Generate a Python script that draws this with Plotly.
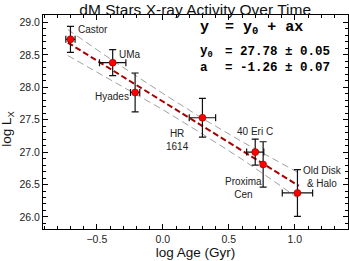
import plotly.graph_objects as go

# ---- data ----
names = ["Castor", "UMa", "Hyades", "HR<br>1614", "40 Eri C", "Proxima<br>Cen", "Old Disk<br>& Halo"]
log_age = [-0.70, -0.38, -0.21, 0.30, 0.70, 0.76, 1.02]
log_lx = [28.74, 28.38, 27.92, 27.53, 27.00, 26.81, 26.37]
age_err = [0.035, 0.10, 0.035, 0.10, 0.065, 0.0, 0.115]
lx_err = [0.20, 0.20, 0.30, 0.30, 0.20, 0.35, 0.36]

fit_x = [-0.72, 1.03]
fit_y = [28.69, 26.48]

band_x = [-0.72, -0.40, 0.00, 0.30, 0.60, 0.85, 1.03]
band_upper = [28.89, 28.44, 27.905, 27.52, 27.16, 26.88, 26.68]
band_lower = [28.49, 28.12, 27.655, 27.28, 26.89, 26.54, 26.28]

y0_text = "27.78 ± 0.05"
a_text = "-1.26 ± 0.07"

# label placement (pixel offsets from each point): (xshift, yshift, xanchor)
label_place = [(6, 10, "left"), (4.5, 8.5, "left"), (-4.5, -4.5, "right"),
               (-24.5, -22, "center"), (-0.5, 20.5, "center"),
               (-19.5, -24, "center"), (25, 16, "center")]

SANS = "Liberation Sans, Arial, sans-serif"
MONO = "Liberation Mono, Courier New, monospace"

fig = go.Figure()

fig.add_trace(go.Scatter(x=band_x, y=band_upper, mode="lines",
                         line=dict(color="#a0a0a0", width=1, dash="7px,4px"),
                         hoverinfo="skip", showlegend=False))
fig.add_trace(go.Scatter(x=band_x, y=band_lower, mode="lines",
                         line=dict(color="#a0a0a0", width=1, dash="7px,4px"),
                         hoverinfo="skip", showlegend=False))
fig.add_trace(go.Scatter(x=fit_x, y=fit_y, mode="lines",
                         line=dict(color="#a80000", width=2, dash="6px,3px"),
                         hoverinfo="skip", showlegend=False))

fig.add_trace(go.Scatter(
    x=log_age, y=log_lx, mode="markers",
    marker=dict(color="#ff0000", size=7, line=dict(color="#8b0000", width=0.6)),
    error_x=dict(type="data", array=age_err, color="#111111", thickness=1.2, width=3.5),
    error_y=dict(type="data", array=lx_err, color="#111111", thickness=1.2, width=3.5),
    showlegend=False))

for nm, xx, yy, (dx, dy, anc) in zip(names, log_age, log_lx, label_place):
    fig.add_annotation(x=xx, y=yy, xref="x", yref="y", text=nm, showarrow=False,
                       xanchor=anc, yanchor="middle", xshift=dx, yshift=dy,
                       align="center", font=dict(family=SANS, size=10, color="#222222"))

# equation block
eq_x_left = 0.509
eq_x_eq = 0.590
rows = [
    ("<b>y</b>", "<b>= y<sub>0</sub> + ax</b>", 0.94, 15),
    ("<b>y<sub>0</sub></b>", "<b>= " + y0_text + "</b>", 0.825, 12.5),
    ("<b>a</b>", "<b>= " + a_text + "</b>", 0.751, 12.5),
]
for left_txt, right_txt, yy, fs in rows:
    fig.add_annotation(x=eq_x_left, y=yy, xref="paper", yref="paper", showarrow=False,
                       xanchor="left", yanchor="middle", text=left_txt,
                       font=dict(family=MONO, size=fs, color="black"))
    fig.add_annotation(x=eq_x_eq, y=yy, xref="paper", yref="paper", showarrow=False,
                       xanchor="left", yanchor="middle", text=right_txt,
                       font=dict(family=MONO, size=fs, color="black"))

# y axis title
fig.add_annotation(x=-0.117, y=0.47, xref="paper", yref="paper", showarrow=False,
                   textangle=-90, xanchor="center", yanchor="middle",
                   text="log L<sub>X</sub>", font=dict(family=SANS, size=13.5, color="#111111"))

axis_common = dict(showline=True, linecolor="black", linewidth=1, mirror="ticks",
                   ticks="inside", ticklen=5, tickcolor="black", showgrid=False,
                   zeroline=False, dtick=0.5,
                   tickfont=dict(family=SANS, size=10.5, color="#222222"),
                   minor=dict(dtick=0.1, ticks="inside", ticklen=3, tickcolor="black"))

fig.update_xaxes(range=[-0.908, 1.403], tickformat=".1f",
                 title=dict(text="log Age (Gyr)", standoff=2,
                            font=dict(family=SANS, size=13.5, color="#111111")),
                 **axis_common)
fig.update_yaxes(range=[25.814, 29.115], tickformat=".1f", **axis_common)

fig.update_layout(
    width=349, height=261, autosize=False,
    margin=dict(l=43, r=1, t=15, b=32),
    paper_bgcolor="white", plot_bgcolor="white",
    title=dict(text="dM Stars X-ray Activity Over Time", x=0.5593, xanchor="center",
               y=0.963, yanchor="middle",
               font=dict(family=SANS, size=15.5, color="#111111")),
)

fig.write_html("out.html", config={"displayModeBar": False},
               post_script="document.body.style.margin='0';document.body.style.padding='0';"
                           "document.body.style.overflow='hidden';")
